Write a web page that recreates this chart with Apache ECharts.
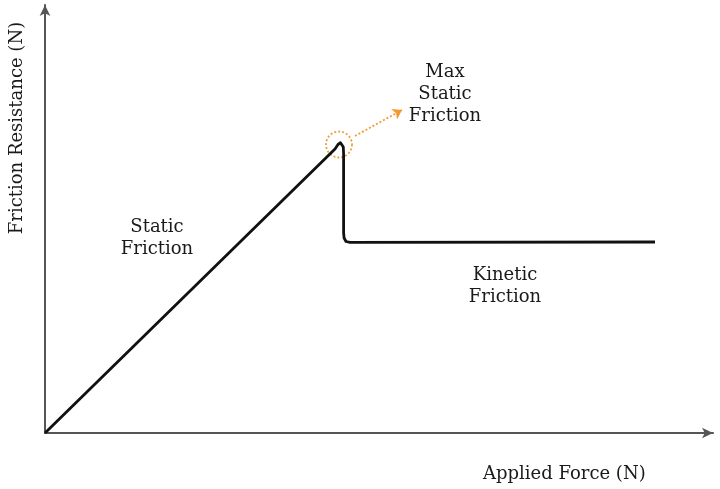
<!DOCTYPE html>
<html>
<head>
<meta charset="utf-8">
<script src="https://cdn.jsdelivr.net/npm/echarts@6/dist/echarts.min.js"></script>
<style>html,body{margin:0;padding:0;background:#fff}#c{width:720px;height:489px}</style>
</head>
<body>
<div id="c"></div>
<script>
// Friction curve (x = applied force, y = friction resistance), arbitrary units
const frictionX = [0, 290, 293, 295.5, 297.3, 298.3, 298.6, 298.6, 299.1, 301, 305, 610];
const frictionY = [0, 284, 288.5, 290.3, 289.3, 286, 279, 200, 195, 191.5, 190.6, 191];
const peakPoint = [294, 288.5];
const arrowFrom = [310, 297];
const arrowTo = [357, 323];
const annotationText = ['Max\nStatic\nFriction', 'Static\nFriction', 'Kinetic\nFriction'];
const annotationX = [400, 112, 460];
const annotationY = [339, 195, 147];
const xAxisTitle = 'Applied Force (N)';
const yAxisTitle = 'Friction Resistance (N)';

const font = 'DejaVu Serif';
const chart = echarts.init(document.getElementById('c'));
const axisCommon = {
  type: 'value', min: 0,
  axisLabel: {show: false}, axisTick: {show: false}, splitLine: {show: false},
  axisLine: {show: true, symbol: ['none', 'arrow'], symbolSize: [8, 11], lineStyle: {color: '#555', width: 2}}
};
chart.setOption({
  animation: false,
  grid: {left: 45, right: 7, top: 5, bottom: 56},
  xAxis: Object.assign({}, axisCommon, {max: 668}),
  yAxis: Object.assign({}, axisCommon, {max: 428}),
  graphic: [
    {type: 'text', left: 483, top: 465, style: {text: xAxisTitle, font: '18px "' + font + '"', fill: '#1a1a1a'}},
    {type: 'text', x: 17, y: 128, rotation: Math.PI / 2, style: {text: yAxisTitle, font: '18px "' + font + '"', fill: '#1a1a1a', align: 'center', verticalAlign: 'middle'}}
  ],
  series: [
    {
      type: 'line', data: frictionX.map((x, i) => [x, frictionY[i]]),
      showSymbol: false, lineStyle: {color: '#111', width: 2.8, join: 'round'}, z: 3
    },
    {
      type: 'scatter', data: [peakPoint], symbol: 'circle', symbolSize: 26,
      itemStyle: {color: 'rgba(0,0,0,0)', borderColor: '#f0a040', borderWidth: 1.8, borderType: [2, 2], opacity: 1}, z: 2
    },
    {
      type: 'lines', coordinateSystem: 'cartesian2d',
      symbol: ['none', 'arrow'], symbolSize: 9,
      lineStyle: {color: '#f39a2e', width: 1.8, type: [2, 2], opacity: 1},
      data: [{coords: [arrowFrom, arrowTo]}]
    },
    {
      type: 'scatter', symbolSize: 0, silent: true,
      itemStyle: {opacity: 1},
      data: annotationText.map((t, i) => ({value: [annotationX[i], annotationY[i]], name: t})),
      label: {show: true, position: 'inside', formatter: p => p.name, fontFamily: font, fontSize: 18, lineHeight: 22, color: '#1a1a1a', align: 'center'}
    }
  ]
});
</script>
</body>
</html>
